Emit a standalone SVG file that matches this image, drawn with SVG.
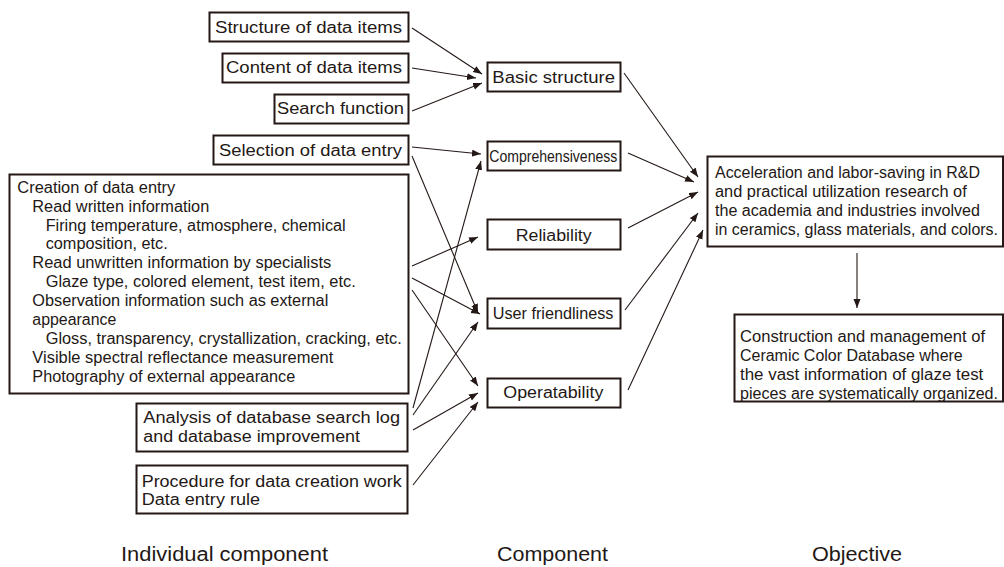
<svg xmlns="http://www.w3.org/2000/svg" width="1004" height="567" viewBox="0 0 1004 567">
<defs>
<style>
.box{fill:#fff;stroke:#231815;stroke-width:2}
.t{font-family:"Liberation Sans",Arial,sans-serif;font-size:16px;fill:#231815}
.lbl{font-family:"Liberation Sans",Arial,sans-serif;font-size:19.5px;fill:#231815}
.c{stroke:#231815;stroke-width:1.1;fill:none;marker-end:url(#ah)}
</style>
<marker id="ah" markerUnits="userSpaceOnUse" markerWidth="10" markerHeight="8" refX="9" refY="3.5" orient="auto">
<path d="M0,0 L9,3.5 L0,7 Z" fill="#231815"/>
</marker>
</defs>
<rect width="1004" height="567" fill="#fff"/>

<g id="connectors">
<line class="c" x1="412" y1="28" x2="482" y2="74"/>
<line class="c" x1="412" y1="68" x2="476" y2="78"/>
<line class="c" x1="412" y1="111" x2="482" y2="83"/>
<line class="c" x1="412" y1="147" x2="481" y2="154"/>
<line class="c" x1="412" y1="156" x2="478" y2="313"/>
<line class="c" x1="413" y1="408" x2="481" y2="161"/>
<line class="c" x1="412" y1="266" x2="478" y2="237"/>
<line class="c" x1="412" y1="278" x2="480" y2="314"/>
<line class="c" x1="413" y1="415" x2="478" y2="322"/>
<line class="c" x1="412" y1="290" x2="478" y2="386"/>
<line class="c" x1="413" y1="430" x2="478" y2="393"/>
<line class="c" x1="413" y1="485" x2="478" y2="402"/>
<line class="c" x1="624" y1="73" x2="698" y2="177"/>
<line class="c" x1="628" y1="153" x2="694" y2="182"/>
<line class="c" x1="628" y1="228" x2="698" y2="192"/>
<line class="c" x1="625" y1="310" x2="698" y2="213"/>
<line class="c" x1="628" y1="390" x2="703" y2="230"/>
<line class="c" x1="857" y1="253" x2="857" y2="308"/>
</g>

<g id="n-structure"><rect class="box" x="209.5" y="12.5" width="199" height="29"/><text class="t" x="215" y="33" textLength="187" lengthAdjust="spacingAndGlyphs">Structure of data items</text></g>
<g id="n-content"><rect class="box" x="222.5" y="53.5" width="186" height="29"/><text class="t" x="226" y="73" textLength="176" lengthAdjust="spacingAndGlyphs">Content of data items</text></g>
<g id="n-search"><rect class="box" x="274.5" y="94.5" width="134" height="29"/><text class="t" x="277" y="114" textLength="127" lengthAdjust="spacingAndGlyphs">Search function</text></g>
<g id="n-selection"><rect class="box" x="213.5" y="135.5" width="195" height="29"/><text class="t" x="219" y="156" textLength="183" lengthAdjust="spacingAndGlyphs">Selection of data entry</text></g>
<g id="n-creation"><rect class="box" x="9.5" y="174.5" width="399" height="219"/>
<text class="t" x="17.3" y="193" textLength="158" lengthAdjust="spacingAndGlyphs">Creation of data entry</text>
<text class="t" x="32.3" y="212" textLength="177" lengthAdjust="spacingAndGlyphs">Read written information</text>
<text class="t" x="45.7" y="231" textLength="300" lengthAdjust="spacingAndGlyphs">Firing temperature, atmosphere, chemical</text>
<text class="t" x="45.7" y="249" textLength="122" lengthAdjust="spacingAndGlyphs">composition, etc.</text>
<text class="t" x="32.3" y="268" textLength="299" lengthAdjust="spacingAndGlyphs">Read unwritten information by specialists</text>
<text class="t" x="45.7" y="287" textLength="310" lengthAdjust="spacingAndGlyphs">Glaze type, colored element, test item, etc.</text>
<text class="t" x="32.3" y="306" textLength="296" lengthAdjust="spacingAndGlyphs">Observation information such as external</text>
<text class="t" x="32.3" y="325" textLength="84" lengthAdjust="spacingAndGlyphs">appearance</text>
<text class="t" x="45.7" y="344" textLength="356" lengthAdjust="spacingAndGlyphs">Gloss, transparency, crystallization, cracking, etc.</text>
<text class="t" x="32.3" y="363" textLength="301" lengthAdjust="spacingAndGlyphs">Visible spectral reflectance measurement</text>
<text class="t" x="32.3" y="382" textLength="263" lengthAdjust="spacingAndGlyphs">Photography of external appearance</text>
</g>
<g id="n-analysis"><rect class="box" x="136.5" y="403.5" width="271" height="48"/>
<text class="t" x="143.3" y="423.3" textLength="256.7" lengthAdjust="spacingAndGlyphs">Analysis of database search log</text>
<text class="t" x="143.3" y="441.7" textLength="216.7" lengthAdjust="spacingAndGlyphs">and database improvement</text></g>
<g id="n-procedure"><rect class="box" x="136.5" y="465.5" width="271" height="48"/>
<text class="t" x="141.7" y="486.7" textLength="260" lengthAdjust="spacingAndGlyphs">Procedure for data creation work</text>
<text class="t" x="141.7" y="505" textLength="118.3" lengthAdjust="spacingAndGlyphs">Data entry rule</text></g>

<g id="n-basic"><rect class="box" x="487.5" y="62.5" width="133" height="29"/><text class="t" x="492.3" y="82.7" textLength="122.7" lengthAdjust="spacingAndGlyphs">Basic structure</text></g>
<g id="n-comprehensiveness"><rect class="box" x="487.5" y="141.5" width="133" height="29"/><text class="t" x="489.3" y="161.7" textLength="128" lengthAdjust="spacingAndGlyphs">Comprehensiveness</text></g>
<g id="n-reliability"><rect class="box" x="487.5" y="219.5" width="133" height="30"/><text class="t" x="515.7" y="240.7" textLength="76" lengthAdjust="spacingAndGlyphs">Reliability</text></g>
<g id="n-user"><rect class="box" x="487.5" y="298.5" width="133" height="30"/><text class="t" x="492.7" y="319" textLength="120.7" lengthAdjust="spacingAndGlyphs">User friendliness</text></g>
<g id="n-operatability"><rect class="box" x="487.5" y="378.5" width="133" height="29"/><text class="t" x="503.3" y="397.7" textLength="100" lengthAdjust="spacingAndGlyphs">Operatability</text></g>

<g id="n-objective"><rect class="box" x="707.5" y="156.5" width="295.5" height="90"/>
<text class="t" x="715" y="178.3" textLength="265" lengthAdjust="spacingAndGlyphs">Acceleration and labor-saving in R&amp;D</text>
<text class="t" x="715" y="197.3" textLength="251.7" lengthAdjust="spacingAndGlyphs">and practical utilization research of</text>
<text class="t" x="715" y="216" textLength="265" lengthAdjust="spacingAndGlyphs">the academia and industries involved</text>
<text class="t" x="715" y="235" textLength="283" lengthAdjust="spacingAndGlyphs">in ceramics, glass materials, and colors.</text></g>
<g id="n-database"><rect class="box" x="734.5" y="314.5" width="268.5" height="87"/>
<text class="t" x="740" y="342.3" textLength="245" lengthAdjust="spacingAndGlyphs">Construction and management of</text>
<text class="t" x="740" y="361" textLength="222.7" lengthAdjust="spacingAndGlyphs">Ceramic Color Database where</text>
<text class="t" x="740" y="380" textLength="243.3" lengthAdjust="spacingAndGlyphs">the vast information of glaze test</text>
<text class="t" x="740" y="399" textLength="258" lengthAdjust="spacingAndGlyphs">pieces are systematically organized.</text></g>

<g id="labels">
<text class="lbl" x="121" y="561" textLength="207" lengthAdjust="spacingAndGlyphs">Individual component</text>
<text class="lbl" x="497" y="561" textLength="111" lengthAdjust="spacingAndGlyphs">Component</text>
<text class="lbl" x="812" y="561" textLength="90" lengthAdjust="spacingAndGlyphs">Objective</text>
</g>
</svg>
